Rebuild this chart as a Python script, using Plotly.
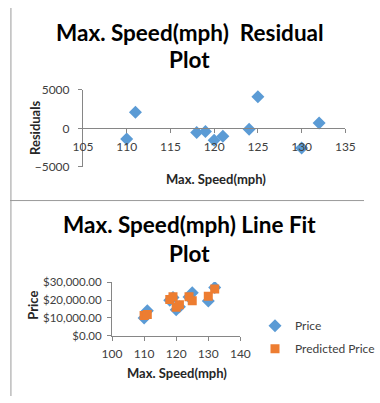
import plotly.graph_objects as go

# ---- data ----
speed = [110, 111, 118, 119, 120, 121, 124, 125, 130, 132]
residuals = [-1375, 2090, -540, -415, -1540, -1040, -125, 4090, -2540, 710]
price = [10000, 14000, 19800, 21400, 14500, 16300, 21700, 24000, 19500, 27000]
predicted = [11400, 11900, 20300, 21800, 16000, 17300, 21800, 19600, 22100, 26200]

res_xticks = [105, 110, 115, 120, 125, 130, 135]
res_yticks = [-5000, 0, 5000]
fit_xticks = [100, 110, 120, 130, 140]
fit_yticks = [0, 10000, 20000, 30000]

W, H = 380, 403
BLUE = "#5B9BD5"
ORANGE = "#ED7D31"
AX = "#868686"
TXT = "#404040"
FONT = "Lato"


def px(x):
    return x / W


def py(y):
    return 1 - y / H


fig = go.Figure()

fig.add_trace(go.Scatter(x=speed, y=residuals, mode="markers", xaxis="x", yaxis="y",
                         marker=dict(symbol="diamond", size=10, color=BLUE),
                         showlegend=False))
fig.add_trace(go.Scatter(x=speed, y=price, mode="markers", xaxis="x2", yaxis="y2",
                         name="Price", legendgroup="a",
                         marker=dict(symbol="diamond", size=10, color=BLUE)))
fig.add_trace(go.Scatter(x=speed, y=predicted, mode="markers", xaxis="x2", yaxis="y2",
                         name="Predicted Price", legendgroup="b",
                         marker=dict(symbol="square", size=9, color=ORANGE)))

ytop_dom = [py(165), py(85)]
ybot_dom = [py(340.5), py(284.7)]

axis_common = dict(showgrid=False, zeroline=False, showline=True, linecolor=AX,
                   linewidth=1, ticks="outside", ticklen=4, tickcolor=AX)
tickf = dict(family=FONT, size=12, color=TXT)

fig.update_layout(
    width=W, height=H,
    margin=dict(l=0, r=0, t=0, b=0),
    paper_bgcolor="white", plot_bgcolor="white",
    xaxis=dict(domain=[px(78.3), px(360)], range=[105, 135], tickvals=res_xticks,
               anchor="free", position=(ytop_dom[0] + ytop_dom[1]) / 2,
               ticklabelstandoff=3, tickfont=tickf, **axis_common),
    yaxis=dict(domain=ytop_dom, range=[-5000, 5000], tickvals=res_yticks,
               anchor="x", ticklabelstandoff=6, tickfont=tickf, **axis_common),
    xaxis2=dict(domain=[px(109.5), px(247.3)], range=[100, 140], tickvals=fit_xticks,
                anchor="y2", ticklabelstandoff=3, tickfont=tickf, **axis_common),
    yaxis2=dict(domain=ybot_dom, range=[0, 30000], tickvals=fit_yticks,
                tickformat="$,.2f", anchor="x2", ticklabelstandoff=3,
                tickfont=dict(family=FONT, size=11.5, color=TXT), **axis_common),
    legend=dict(x=px(263), y=py(315), xanchor="left", yanchor="top",
                font=dict(family=FONT, size=12, color=TXT),
                itemwidth=30,
                traceorder="grouped", tracegroupgap=4, bgcolor="rgba(0,0,0,0)"),
    showlegend=True,
)

def ann(text, x, y, size, bold=True, angle=0, color="black"):
    fig.add_annotation(text=f"<b>{text}</b>" if bold else text, x=px(x), y=py(y),
                       xref="paper", yref="paper", showarrow=False, textangle=angle,
                       xanchor="center", yanchor="middle",
                       font=dict(family=FONT, size=size, color=color))

ann("Max. Speed(mph)  Residual", 193, 25, 22.5)
ann("Plot", 193, 54, 22.5)
ann("Max. Speed(mph) Line Fit", 192.5, 225, 22.5)
ann("Plot", 192.5, 255, 22.5)
ann("Max. Speed(mph)", 220.7, 178, 13, color="#262626")
ann("Residuals", 27.5, 125, 13, angle=-90, color="#262626")
ann("Max. Speed(mph)", 179, 379, 13, color="#262626")
ann("Price", 25, 309, 13, angle=-90, color="#262626")

fig.add_shape(type="line", xref="paper", yref="paper", x0=0, x1=1, y0=py(200), y1=py(200),
              line=dict(color="#9a9a9a", width=1))
fig.add_shape(type="line", xref="paper", yref="paper", x0=px(1), x1=px(1), y0=0, y1=1,
              line=dict(color="#9a9a9a", width=1))

fig.write_html("out.html", config={"displayModeBar": False},
               post_script="document.body.style.margin='0';")
